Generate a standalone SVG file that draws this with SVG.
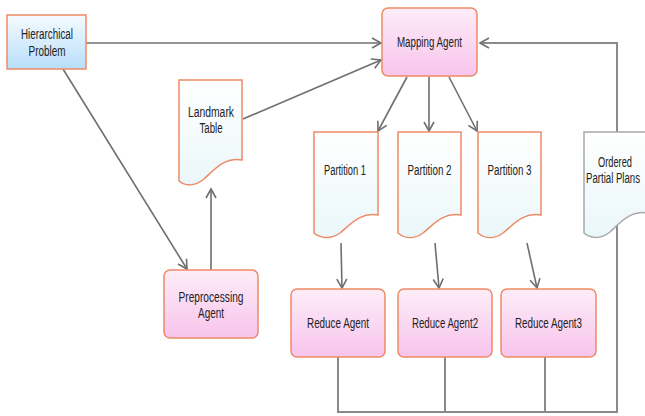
<svg xmlns="http://www.w3.org/2000/svg" width="645" height="416" viewBox="0 0 645 416">
<style>
text{font-family:"Liberation Sans Narrow","Liberation Sans",Arial,sans-serif;font-size:14px;fill:#222;text-anchor:middle}
.agent{fill:url(#pink);stroke:#ee8a66;stroke-width:1.5}
.doc{fill:url(#docfill);stroke:#ee8a66;stroke-width:1.5}
.docg{fill:url(#docfill);stroke:#a8a8a8;stroke-width:1.5}
.c{fill:none;stroke:#6f6f6f;stroke-width:1.6}
.loop{fill:none;stroke:#8a8a8a;stroke-width:2}
</style>
<defs>
<linearGradient id="pink" x1="0" y1="0" x2="0" y2="1"><stop offset="0" stop-color="#fdedf8"/><stop offset="1" stop-color="#f8c4ec"/></linearGradient>
<linearGradient id="blue" x1="0" y1="0" x2="0" y2="1"><stop offset="0" stop-color="#f6fbff"/><stop offset="1" stop-color="#b7defa"/></linearGradient>
<linearGradient id="docfill" x1="0" y1="0" x2="0" y2="1"><stop offset="0" stop-color="#ffffff"/><stop offset="1" stop-color="#eaf7fa"/></linearGradient>
<marker id="ar" markerUnits="userSpaceOnUse" markerWidth="12" markerHeight="12" viewBox="0 0 12 12" refX="10" refY="6" orient="auto"><path d="M1,1 L10,6 L1,11" fill="none" stroke="#6f6f6f" stroke-width="1.6"/></marker>
</defs>
<g id="connectors">
<path class="loop" d="M338,357 V412 H617 V43 H480" marker-end="url(#ar)"/>
<path class="loop" d="M445,357 V412"/>
<path class="loop" d="M545,357 V412"/>
<path class="c" d="M86,43 H381" marker-end="url(#ar)"/>
<path class="c" d="M243,119 L381,60" marker-end="url(#ar)"/>
<path class="c" d="M63,69 L187,269" marker-end="url(#ar)"/>
<path class="c" d="M211,270 V189" marker-end="url(#ar)"/>
<path class="c" d="M407,77 L378,131" marker-end="url(#ar)"/>
<path class="c" d="M429,77 V131" marker-end="url(#ar)"/>
<path class="c" d="M449,77 L477,131" marker-end="url(#ar)"/>
<path class="c" d="M341,243 L342,288" marker-end="url(#ar)"/>
<path class="c" d="M435,243 L439,288" marker-end="url(#ar)"/>
<path class="c" d="M527,243 L537,288" marker-end="url(#ar)"/>
</g>
<g id="hierarchical-problem">
<rect x="7" y="15" width="79" height="54" fill="url(#blue)" stroke="#ee8a66" stroke-width="1.5"/>
<text x="47" y="39" textLength="52" lengthAdjust="spacingAndGlyphs">Hierarchical</text>
<text x="47" y="56" textLength="37" lengthAdjust="spacingAndGlyphs">Problem</text>
</g>
<g id="mapping-agent">
<rect class="agent" x="382" y="8" width="95" height="68" rx="6"/>
<text x="429.5" y="47" textLength="65" lengthAdjust="spacingAndGlyphs">Mapping Agent</text>
</g>
<g id="landmark-table">
<path class="doc" d="M179,80 H242 V160 C224,157 214,170 204,179 C194,187 185,186 179,181 Z"/>
<text x="211" y="117" textLength="46" lengthAdjust="spacingAndGlyphs">Landmark</text>
<text x="211" y="133" textLength="23" lengthAdjust="spacingAndGlyphs">Table</text>
</g>
<g id="partition-1">
<path class="doc" d="M314,132 H378 V215 C360,212 350,225 340,233 C330,240 320,238 314,233 Z"/>
<text x="345" y="175" textLength="42" lengthAdjust="spacingAndGlyphs">Partition 1</text>
</g>
<g id="partition-2">
<path class="doc" d="M398,132 H461 V215 C443,212 433,225 423,233 C413,240 404,238 398,233 Z"/>
<text x="429.5" y="175" textLength="44" lengthAdjust="spacingAndGlyphs">Partition 2</text>
</g>
<g id="partition-3">
<path class="doc" d="M478,132 H541 V215 C523,212 513,225 503,233 C493,240 484,238 478,233 Z"/>
<text x="509.5" y="175" textLength="44" lengthAdjust="spacingAndGlyphs">Partition 3</text>
</g>
<g id="ordered-partial-plans">
<path class="docg" d="M584,132 H648 V213 C630,210 620,223 610,232 C600,240 590,238 584,233 Z"/>
<text x="615" y="167" textLength="34" lengthAdjust="spacingAndGlyphs">Ordered</text>
<text x="613" y="183" textLength="54" lengthAdjust="spacingAndGlyphs">Partial Plans</text>
</g>
<g id="preprocessing-agent">
<rect class="agent" x="164" y="270" width="94" height="68" rx="6"/>
<text x="211" y="302" textLength="65" lengthAdjust="spacingAndGlyphs">Preprocessing</text>
<text x="211" y="318" textLength="26" lengthAdjust="spacingAndGlyphs">Agent</text>
</g>
<g id="reduce-agent">
<rect class="agent" x="291" y="289" width="94" height="68" rx="6"/>
<text x="338" y="328" textLength="62" lengthAdjust="spacingAndGlyphs">Reduce Agent</text>
</g>
<g id="reduce-agent2">
<rect class="agent" x="398" y="289" width="94" height="68" rx="6"/>
<text x="445" y="328" textLength="66" lengthAdjust="spacingAndGlyphs">Reduce Agent2</text>
</g>
<g id="reduce-agent3">
<rect class="agent" x="501" y="289" width="95" height="68" rx="6"/>
<text x="548.5" y="328" textLength="67" lengthAdjust="spacingAndGlyphs">Reduce Agent3</text>
</g>
</svg>
